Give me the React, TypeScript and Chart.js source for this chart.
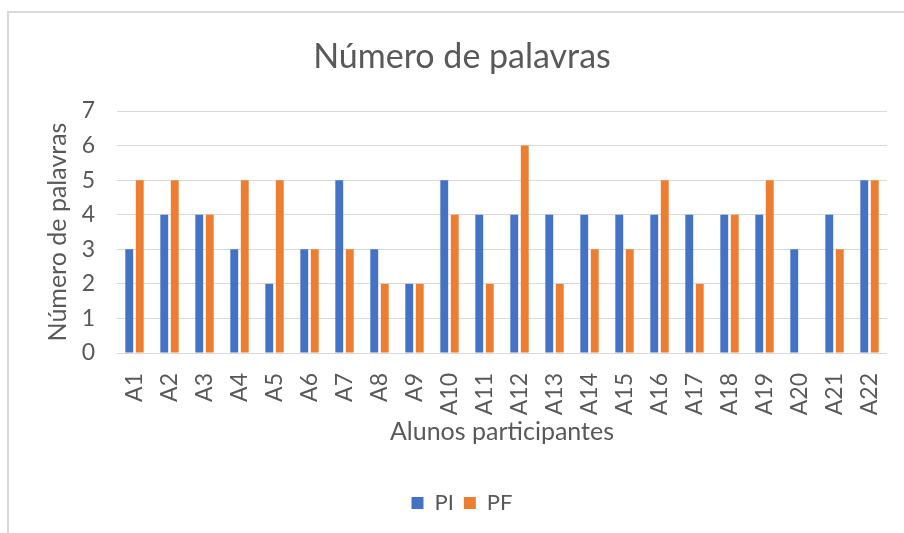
import React, { useEffect, useRef } from "react";
import { Chart, registerables } from "chart.js";

Chart.register(...registerables);

const categories = ["A1","A2","A3","A4","A5","A6","A7","A8","A9","A10","A11","A12","A13","A14","A15","A16","A17","A18","A19","A20","A21","A22"];
const piValues = [3,4,4,3,2,3,5,3,2,5,4,4,4,4,4,4,4,4,4,3,4,5];
const pfValues = [5,5,4,5,5,3,3,2,2,4,2,6,2,3,3,5,2,4,5,0,3,5];
const yTicks = [0,1,2,3,4,5,6,7];

const TEXT = "#595959";
const GRID = "#d9d9d9";
const FONT = "Lato, 'Open Sans', sans-serif";

export default function App() {
  const ref = useRef<HTMLCanvasElement | null>(null);
  useEffect(() => {
    if (!ref.current) return;
    const chart = new Chart(ref.current, {
      type: "bar",
      data: {
        labels: categories,
        datasets: [
          { label: "PI", data: piValues, backgroundColor: "#4472C4", categoryPercentage: 0.6, barPercentage: 0.75 },
          { label: "PF", data: pfValues, backgroundColor: "#ED7D31", categoryPercentage: 0.6, barPercentage: 0.75 },
        ],
      },
      options: {
        animation: false,
        responsive: false,
        maintainAspectRatio: false,
        layout: { padding: { left: 0, right: 0, top: 0, bottom: 9 } },
        plugins: {
          title: {
            display: true,
            text: "Número de palavras",
            color: TEXT,
            font: { family: FONT, size: 34, weight: "normal" },
            padding: { top: 24.6, bottom: 33.6 },
          },
          legend: {
            position: "bottom",
            labels: {
              color: TEXT,
              font: { family: FONT, size: 22 },
              boxWidth: 12,
              boxHeight: 12,
              padding: 10,
            },
          },
          tooltip: { enabled: false },
        },
        scales: {
          x: {
            grid: { display: false },
            border: { display: false },
            ticks: { color: TEXT, font: { family: FONT, size: 23 }, minRotation: 90, maxRotation: 90, padding: 12, autoSkip: false },
            title: { display: true, text: "Alunos participantes", color: TEXT, font: { family: FONT, size: 25 }, padding: { top: 0, bottom: 35 } },
            afterFit: (s: any) => { s.height = 129; },
          },
          y: {
            min: 0,
            max: 7,
            grid: { color: GRID, lineWidth: 1, drawTicks: false },
            border: { display: false },
            afterBuildTicks: (s: any) => { s.ticks = yTicks.map((v) => ({ value: v })); },
            ticks: { color: TEXT, font: { family: FONT, size: 23 }, padding: 22 },
            title: { display: true, text: "Número de palavras", color: TEXT, font: { family: FONT, size: 25 }, padding: { top: 35, bottom: 0 } },
            afterFit: (s: any) => { s.width = 109; },
          },
          y2: {
            type: "linear",
            position: "right",
            display: true,
            grid: { display: false, drawTicks: false },
            border: { display: false },
            ticks: { display: false },
            afterFit: (s: any) => { s.width = 29; },
          },
        },
      },
    });
    return () => chart.destroy();
  }, []);
  return (
    <div style={{ position: "fixed", left: 0, top: 0, width: 904, height: 533, overflow: "hidden", background: "#fff" }}>
      <div style={{ position: "absolute", left: 7, top: 11, width: 940, height: 560, border: "2px solid #d9d9d9", boxSizing: "border-box" }} />
      <canvas ref={ref} width={908} height={521} style={{ position: "absolute", left: 8, top: 12, width: 908, height: 521 }} />
    </div>
  );
}
